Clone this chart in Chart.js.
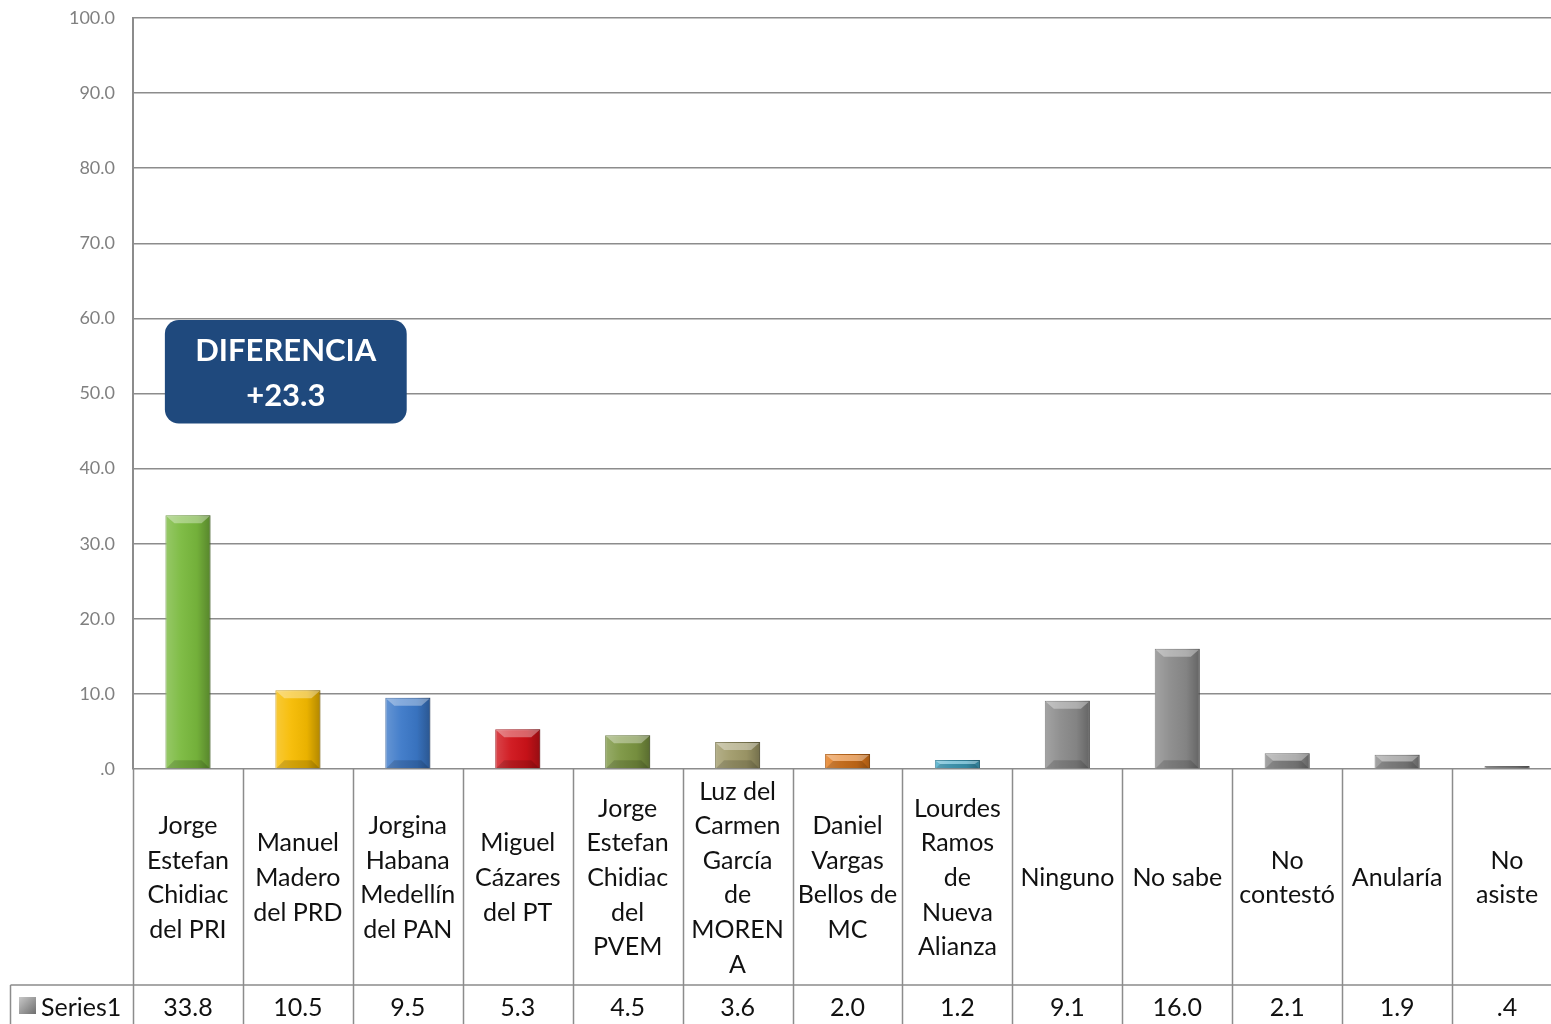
<!DOCTYPE html>
<html>
<head>
<meta charset="utf-8">
<script src="https://cdn.jsdelivr.net/npm/chart.js@4.4.1/dist/chart.umd.min.js"></script>
<style>
  html, body { margin: 0; padding: 0; background: #fff; overflow: hidden; }
  #wrap { width: 1562px; height: 1024px; }
</style>
</head>
<body>
<div id="wrap"><canvas id="myChart" width="1562" height="1024"></canvas></div>
<script>
// categories, shown as the lines they wrap to in the table
var categoryLines = [
    ['Jorge', 'Estefan', 'Chidiac', 'del PRI'],
    ['Manuel', 'Madero', 'del PRD'],
    ['Jorgina', 'Habana', 'Medellín', 'del PAN'],
    ['Miguel', 'Cázares', 'del PT'],
    ['Jorge', 'Estefan', 'Chidiac', 'del', 'PVEM'],
    ['Luz del', 'Carmen', 'García', 'de', 'MOREN', 'A'],
    ['Daniel', 'Vargas', 'Bellos de', 'MC'],
    ['Lourdes', 'Ramos', 'de', 'Nueva', 'Alianza'],
    ['Ninguno'],
    ['No sabe'],
    ['No', 'contestó'],
    ['Anularía'],
    ['No', 'asiste']
];
var Categories = categoryLines.map(function (l) { return l.join(' '); });
var Series1 = [33.8, 10.5, 9.5, 5.3, 4.5, 3.6, 2.0, 1.2, 9.1, 16.0, 2.1, 1.9, 0.4];
var seriesName = 'Series1';
var barColors = ['#79b93d', '#f6bb00', '#3b78c8', '#cf1219', '#7b9541', '#a09a69',
    '#e37a1b', '#41a7c6', '#8a8a8a', '#8a8a8a', '#8a8a8a', '#8a8a8a', '#8a8a8a'];
var borderColors = ['#5b8c2c', '#c79500', '#2b5a99', '#9b0c12', '#5c7030', '#77734d',
    '#b05e14', '#2f7e96', '#666666', '#666666', '#666666', '#666666', '#666666'];
var yTicks = [0, 10, 20, 30, 40, 50, 60, 70, 80, 90, 100];
var noteLines = ['DIFERENCIA', '+23.3'];

function fmt(v) {
    var s = v.toFixed(1);
    return s.indexOf('0.') === 0 ? s.substring(1) : s;
}

var TXT_FONT = '25px Lato, "Open Sans", sans-serif';
var GRID = '#8c8c8c';

// bevel look on each bar
const bevelPlugin = {
    id: 'bevel',
    afterDatasetsDraw(chart) {
        const ctx = chart.ctx;
        const meta = chart.getDatasetMeta(0);
        meta.data.forEach(function (bar) {
            const x0 = bar.x - bar.width / 2, x1 = bar.x + bar.width / 2;
            const top = bar.y, bottom = bar.base, h = bottom - top;
            ctx.save();
            const g = ctx.createLinearGradient(x0, 0, x1, 0);
            g.addColorStop(0, 'rgba(255,255,255,0.22)');
            g.addColorStop(0.35, 'rgba(255,255,255,0.05)');
            g.addColorStop(0.7, 'rgba(0,0,0,0.05)');
            g.addColorStop(1, 'rgba(0,0,0,0.28)');
            ctx.fillStyle = g;
            ctx.fillRect(x0, top, bar.width, h);
            const b = Math.min(8, h / 2);
            ctx.fillStyle = 'rgba(255,255,255,0.35)';
            ctx.beginPath();
            ctx.moveTo(x0 + 1, top + 1);
            ctx.lineTo(x1 - 1, top + 1);
            ctx.lineTo(x1 - 1 - b, top + b);
            ctx.lineTo(x0 + 1 + b, top + b);
            ctx.closePath();
            ctx.fill();
            ctx.fillStyle = 'rgba(0,0,0,0.15)';
            ctx.beginPath();
            ctx.moveTo(x0 + 1, bottom);
            ctx.lineTo(x1 - 1, bottom);
            ctx.lineTo(x1 - 1 - b, bottom - b);
            ctx.lineTo(x0 + 1 + b, bottom - b);
            ctx.closePath();
            ctx.fill();
            ctx.restore();
        });
    }
};

// data table under the plot + annotation box
const tablePlugin = {
    id: 'dataTable',
    afterDraw(chart) {
        const ctx = chart.ctx;
        const xs = chart.scales.x, ys = chart.scales.y;
        const area = chart.chartArea;
        const H = chart.height;
        const rowTop = area.bottom + 216;
        const step = xs.getPixelForValue(1) - xs.getPixelForValue(0);

        ctx.save();
        ctx.strokeStyle = GRID;
        ctx.lineWidth = 1.5;
        ctx.beginPath();
        for (let i = 0; i <= Categories.length; i++) {
            const x = Math.round(xs.getPixelForValue(i) - step / 2) + 0.5;
            ctx.moveTo(x, area.bottom);
            ctx.lineTo(x, H);
        }
        ctx.moveTo(10.5, rowTop);
        ctx.lineTo(area.right, rowTop);
        ctx.moveTo(10.5, rowTop);
        ctx.lineTo(10.5, H);
        ctx.stroke();

        ctx.fillStyle = '#111';
        ctx.font = TXT_FONT;
        ctx.textAlign = 'center';
        ctx.textBaseline = 'middle';
        const lh = 34.6;
        const mid = (area.bottom + rowTop) / 2 + 1;
        categoryLines.forEach(function (lines, i) {
            const cx = xs.getPixelForValue(i);
            const y0 = mid - (lines.length - 1) * lh / 2;
            lines.forEach(function (t, k) { ctx.fillText(t, cx, y0 + k * lh); });
            ctx.fillText(fmt(Series1[i]), cx, rowTop + 23);
        });

        // legend key + series name
        const kg = ctx.createLinearGradient(19, 997, 36, 1014);
        kg.addColorStop(0, '#c8c8c8');
        kg.addColorStop(1, '#6e6e6e');
        ctx.fillStyle = kg;
        ctx.fillRect(19, 997, 17, 17);
        ctx.fillStyle = '#111';
        ctx.textAlign = 'left';
        ctx.fillText(seriesName, 41, rowTop + 23);

        // annotation box
        const bx0 = xs.getPixelForValue(-0.21), bx1 = xs.getPixelForValue(1.99);
        const by0 = ys.getPixelForValue(59.8), by1 = ys.getPixelForValue(46.0);
        ctx.fillStyle = '#1f497d';
        ctx.beginPath();
        ctx.roundRect(bx0, by0, bx1 - bx0, by1 - by0, 14);
        ctx.fill();
        ctx.fillStyle = '#fff';
        ctx.textAlign = 'center';
        ctx.font = 'bold 31px Lato, "Open Sans", sans-serif';
        const bcx = (bx0 + bx1) / 2;
        ctx.fillText(noteLines[0], bcx, by0 + 31);
        ctx.fillText(noteLines[1], bcx, by0 + 76);
        ctx.restore();
    }
};

const data = {
    labels: Categories,
    datasets: [{
        label: seriesName,
        data: Series1,
        backgroundColor: barColors,
        borderColor: borderColors,
        borderWidth: 1,
        barPercentage: 0.41,
        categoryPercentage: 1
    }]
};

const config = {
    type: 'bar',
    data: data,
    options: {
        responsive: false,
        animation: false,
        devicePixelRatio: 1,
        layout: { padding: { top: 18, bottom: 255, left: 0, right: 0 } },
        plugins: { legend: { display: false }, tooltip: { enabled: false } },
        scales: {
            x: { display: false },
            y: {
                min: 0,
                max: 100,
                afterFit: function (s) { s.width = 133; s.paddingTop = 0; s.paddingBottom = 0; },
                afterBuildTicks: function (s) { s.ticks = yTicks.map(function (v) { return { value: v }; }); },
                ticks: {
                    color: '#808080',
                    font: { family: 'Lato, "Open Sans", sans-serif', size: 18 },
                    padding: 18,
                    callback: function (v) { return fmt(v); }
                },
                grid: { color: GRID, lineWidth: 1.5, drawTicks: false },
                border: { color: GRID, width: 2 }
            }
        }
    },
    plugins: [bevelPlugin, tablePlugin]
};

const myChart = new Chart(document.getElementById('myChart'), config);
</script>
</body>
</html>
